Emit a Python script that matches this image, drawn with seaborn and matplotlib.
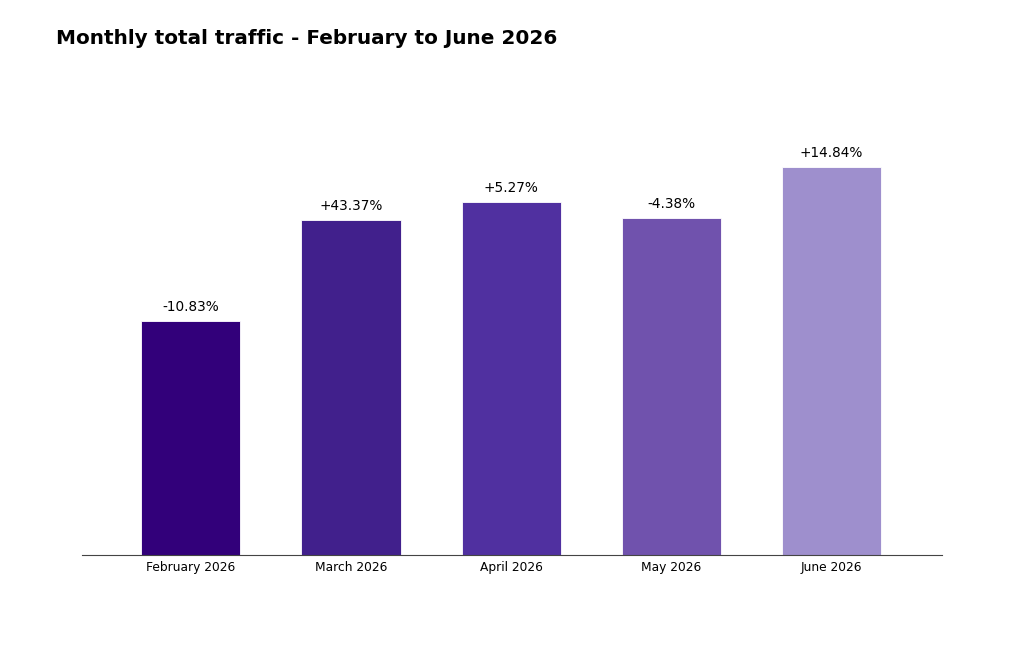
import pandas as pd
import matplotlib
matplotlib.use('Agg')
import matplotlib.pyplot as plt
import seaborn as sns

# monthly totals (relative units) and month-over-month change labels
months = ['February 2026', 'March 2026', 'April 2026', 'May 2026', 'June 2026']
traffic = [234, 335, 353, 337, 388]
changes = ['-10.83%', '+43.37%', '+5.27%', '-4.38%', '+14.84%']
bar_colors = ['#32007A', '#41208C', '#5030A0', '#7052AD', '#9E8FCD']

df = pd.DataFrame({'month': months, 'traffic': traffic})

sns.set_style('white')
plt.rcParams['font.family'] = ['DejaVu Sans']

fig = plt.figure(figsize=(10.24, 6.61), dpi=100)
ax = fig.add_axes([0.08, 0.16, 0.84, 0.72])

sns.barplot(data=df, x='month', y='traffic', hue='month', palette=bar_colors,
            saturation=1, width=0.62, edgecolor='white', linewidth=0.6,
            legend=False, ax=ax)

# change labels above the bars
for p, label in zip(ax.patches, changes):
    ax.annotate(label, (p.get_x() + p.get_width() / 2, p.get_height()),
                xytext=(0, 5), textcoords='offset points',
                ha='center', va='bottom', fontsize=9.8, color='black')

ax.set_xlim(-0.68, 4.69)
ax.set_ylim(0, max(traffic) / 0.815)
ax.set_xlabel('')
ax.set_ylabel('')
ax.set_yticks([])
for side in ['top', 'right', 'left']:
    ax.spines[side].set_visible(False)
ax.spines['bottom'].set_color('#444444')
ax.spines['bottom'].set_linewidth(0.8)
ax.tick_params(axis='x', length=2, color='#888888', labelsize=8.8,
               labelcolor='black', pad=2)

fig.text(0.055, 0.942, 'Monthly total traffic - February to June 2026',
         fontsize=14.4, fontweight='bold', ha='left', va='center', color='black')

fig.savefig('out.png', dpi=100)
plt.close(fig)
